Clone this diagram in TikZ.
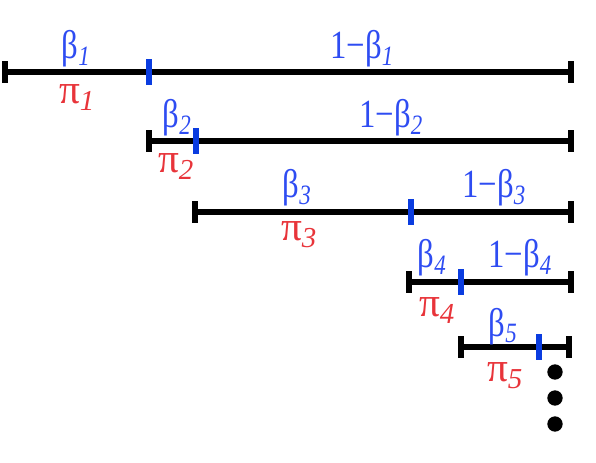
\documentclass[tikz,border=0pt]{standalone}
\usepackage{fontspec}
\setmainfont{Liberation Serif}
\usepackage{graphicx}
\usepackage{xcolor}
\usepackage{tikz}
\definecolor{betablue}{HTML}{2E4CF2}
\definecolor{cutblue}{HTML}{0A3CE0}
\definecolor{pired}{HTML}{E8343A}

\newcommand{\bt}[1]{β\textsubscript{\textit{#1}}}
\newcommand{\pist}[1]{π\textsubscript{\textit{#1}}}
\newcommand{\slim}[1]{\scalebox{0.82}[1]{#1}}

\begin{document}
\begin{tikzpicture}[
  x=0.75pt,y=-0.75pt,
  endtick/.style={fill=black,inner sep=0pt,minimum width=3.8pt,minimum height=16.5pt},
  cut/.style={fill=cutblue,inner sep=0pt,minimum width=4.4pt,minimum height=19pt},
  seg/.style={line width=4pt,draw=black},
  share/.style={text=betablue,anchor=base,inner sep=0pt,font=\fontsize{30}{34}\selectfont},
  prob/.style={text=pired,anchor=base,inner sep=0pt,font=\fontsize{31}{35}\selectfont},
  dot/.style={circle,fill=black,inner sep=0pt,minimum size=11.5pt}
]
\useasboundingbox (0,0) rectangle (596,462);

% stick 1
\node[endtick] (l1) at (5,72) {};
\node[endtick] (r1) at (571,72) {};
\draw[seg] (l1.center) -- (r1.center);
\node[cut] (m1) at (149,72) {};
\node[share] (b1) at (76,58) {\slim{\bt{1}}};
\node[share] (o1) at (362,58) {\slim{1−\bt{1}}};
\node[prob] (p1) at (77,103) {\pist{1}};

% stick 2
\node[endtick] (l2) at (149,141) {};
\node[endtick] (r2) at (571,141) {};
\draw[seg] (l2.center) -- (r2.center);
\node[cut] (m2) at (196,141) {};
\node[share] (b2) at (177,127) {\slim{\bt{2}}};
\node[share] (o2) at (391,127) {\slim{1−\bt{2}}};
\node[prob] (p2) at (176,172) {\pist{2}};

% stick 3
\node[endtick] (l3) at (195,212) {};
\node[endtick] (r3) at (571,212) {};
\draw[seg] (l3.center) -- (r3.center);
\node[cut] (m3) at (411,212) {};
\node[share] (b3) at (297,197) {\slim{\bt{3}}};
\node[share] (o3) at (494,197) {\slim{1−\bt{3}}};
\node[prob] (p3) at (299,240) {\pist{3}};

% stick 4
\node[endtick] (l4) at (409,282) {};
\node[endtick] (r4) at (571,282) {};
\draw[seg] (l4.center) -- (r4.center);
\node[cut] (m4) at (461,282) {};
\node[share] (b4) at (432,267) {\slim{\bt{4}}};
\node[share] (o4) at (520,267) {\slim{1−\bt{4}}};
\node[prob] (p4) at (437,316) {\pist{4}};

% stick 5
\node[endtick] (l5) at (461,347) {};
\node[endtick] (r5) at (569,347) {};
\draw[seg] (l5.center) -- (r5.center);
\node[cut] (m5) at (539,347) {};
\node[share] (b5) at (503,336) {\slim{\bt{5}}};
\node[prob] (p5) at (505,381) {\pist{5}};

% and so on
\node[dot] (d1) at (555,372) {};
\node[dot] (d2) at (555,398) {};
\node[dot] (d3) at (555,424) {};
\end{tikzpicture}
\end{document}
